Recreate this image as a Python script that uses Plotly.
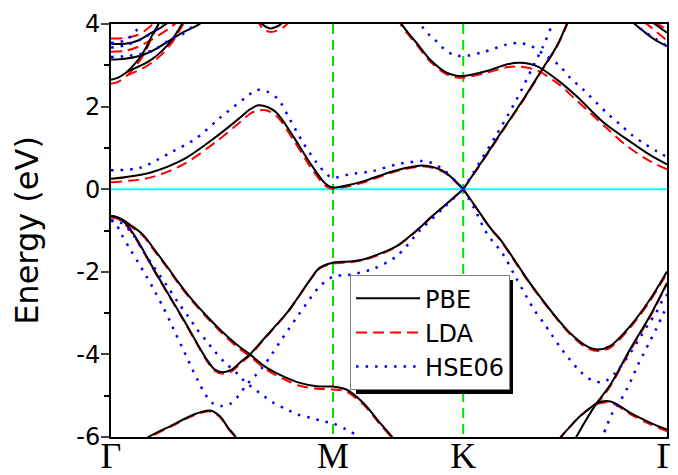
import plotly.graph_objects as go

# ---- k-path (units: Gamma-M = 1) ----
K_TICKS = [0.0, 1.0, 1.587, 2.505]
K_LABELS = ["Γ", "M", "K", "Γ"]
Y_TICKS = [-6, -4, -2, 0, 2, 4]
Y_LABELS = ["-6", "-4", "-2", "0", "2", "4"]

# ================= PBE =================
PBE_CB1_K = [0, 0.176, 0.326, 0.476, 0.581, 0.625, 0.664, 0.705, 0.746, 0.821, 0.896, 0.956, 0.98, 1.0, 1.06, 1.136, 1.287, 1.414, 1.497, 1.557, 1.587]
PBE_CB1_E = [0.25, 0.40, 0.72, 1.28, 1.73, 1.93, 2.03, 1.99, 1.85, 1.28, 0.64, 0.19, 0.08, 0.04, 0.09, 0.19, 0.46, 0.57, 0.44, 0.17, 0.0]
PBE_UP_K = [1.587, 1.677, 1.767, 1.857, 1.940, 2.008, 2.053, 2.075]
PBE_UP_E = [0.0, 0.72, 1.45, 2.17, 2.88, 3.46, 3.99, 4.30]
PBE_CB2_K = [1.293, 1.309, 1.377, 1.437, 1.512, 1.554, 1.587, 1.692, 1.782, 1.842, 1.918, 2.008, 2.098, 2.218, 2.353, 2.428, 2.505]
PBE_CB2_E = [4.2, 4.0, 3.54, 3.14, 2.82, 2.75, 2.74, 2.86, 3.02, 3.06, 2.98, 2.66, 2.25, 1.62, 1.10, 0.83, 0.60]
PBE_VB1_K = [0, 0.023, 0.050, 0.077, 0.101, 0.135, 0.176, 0.221, 0.273, 0.326, 0.378, 0.431, 0.468, 0.503, 0.544, 0.589, 0.626, 0.686, 0.746, 0.799, 0.836, 0.896, 0.941, 1.0,
             1.075, 1.136, 1.212, 1.287, 1.332, 1.392, 1.437, 1.512, 1.587]
PBE_VB1_E = [-0.65, -0.67, -0.75, -0.90, -1.08, -1.38, -1.78, -2.20, -2.67, -3.15, -3.64, -4.12, -4.37, -4.43, -4.37, -4.16, -4.00, -3.64, -3.28, -2.95, -2.67, -2.20, -1.90, -1.78,
             -1.75, -1.70, -1.56, -1.38, -1.20, -0.93, -0.70, -0.35, 0.0]
PBE_VB1B_K = [1.587, 1.632, 1.715, 1.752, 1.887, 1.977, 2.068, 2.143, 2.195, 2.248, 2.338, 2.428, 2.505]
PBE_VB1B_E = [0.0, -0.34, -0.98, -1.20, -2.27, -2.91, -3.48, -3.80, -3.88, -3.80, -3.32, -2.67, -1.99]
PBE_VB2_K = [0, 0.023, 0.050, 0.086, 0.144, 0.198, 0.251, 0.303, 0.364, 0.431, 0.499, 0.566, 0.626, 0.701, 0.776, 0.851, 0.927, 1.0, 1.060, 1.136, 1.212, 1.264, 1.279]
PBE_VB2_E = [-0.65, -0.67, -0.73, -0.86, -1.10, -1.48, -1.86, -2.25, -2.67, -3.07, -3.44, -3.76, -4.00, -4.32, -4.53, -4.69, -4.77, -4.78, -4.85, -5.17, -5.66, -5.98, -6.10]
PBE_VB3_K = [0.131, 0.176, 0.281, 0.371, 0.446, 0.491, 0.528, 0.559, 0.568]
PBE_VB3_E = [-6.15, -5.98, -5.70, -5.46, -5.36, -5.50, -5.78, -5.98, -6.10]
PBE_VB4_K = [2.014, 2.030, 2.068, 2.113, 2.158, 2.194, 2.233, 2.270, 2.338, 2.428, 2.505]
PBE_VB4_E = [-6.08, -5.98, -5.75, -5.50, -5.30, -5.17, -5.13, -5.18, -5.41, -5.65, -5.82]
PBE_VB5_K = [2.086, 2.098, 2.188, 2.248, 2.338, 2.428, 2.505]
PBE_VB5_E = [-6.10, -5.98, -5.18, -4.75, -3.88, -3.07, -2.27]
PBE_TLA_K = [0, 0.032, 0.071, 0.108, 0.138, 0.161, 0.183, 0.206, 0.221]
PBE_TLA_E = [2.65, 2.70, 2.84, 3.04, 3.25, 3.46, 3.70, 3.92, 4.08]
PBE_TLB_K = [0, 0.063, 0.123, 0.183, 0.258, 0.333, 0.393, 0.410]
PBE_TLB_E = [3.14, 3.16, 3.22, 3.34, 3.58, 3.82, 3.98, 4.05]
PBE_TLC_K = [0, 0.063, 0.123, 0.183, 0.221, 0.248, 0.266]
PBE_TLC_E = [3.52, 3.52, 3.60, 3.79, 3.90, 4.00, 4.08]
PBE_TLD_K = [0.071, 0.108, 0.145, 0.185, 0.230, 0.275, 0.311, 0.329]
PBE_TLD_E = [2.84, 2.93, 3.02, 3.15, 3.35, 3.62, 3.92, 4.08]
PBE_TOPM_K = [0.649, 0.680, 0.698, 0.716, 0.739, 0.761, 0.784]
PBE_TOPM_E = [4.15, 4.00, 3.93, 3.89, 3.92, 3.98, 4.10]
PBE_TR1_K = [2.351, 2.360, 2.398, 2.450, 2.505]
PBE_TR1_E = [4.05, 4.00, 3.83, 3.62, 3.46]
PBE_TR2_K = [2.428, 2.450, 2.505]
PBE_TR2_E = [4.10, 4.00, 3.79]

# ================= LDA =================
LDA_CB1_K = [0, 0.176, 0.326, 0.476, 0.581, 0.625, 0.656, 0.698, 0.746, 0.821, 0.896, 0.956, 0.98, 1.0, 1.06, 1.136, 1.287, 1.414, 1.497, 1.557, 1.587]
LDA_CB1_E = [0.17, 0.28, 0.60, 1.16, 1.62, 1.82, 1.90, 1.91, 1.77, 1.20, 0.56, 0.13, 0.04, 0.01, 0.06, 0.16, 0.44, 0.55, 0.42, 0.15, 0.0]
LDA_UP_K = [1.587, 1.677, 1.767, 1.857, 1.940, 2.008, 2.053, 2.075]
LDA_UP_E = [0.0, 0.70, 1.43, 2.15, 2.86, 3.44, 3.97, 4.28]
LDA_CB2_K = [1.293, 1.309, 1.377, 1.437, 1.512, 1.554, 1.587, 1.692, 1.782, 1.842, 1.918, 2.008, 2.098, 2.239, 2.324, 2.414, 2.505]
LDA_CB2_E = [4.18, 3.96, 3.50, 3.10, 2.78, 2.71, 2.70, 2.82, 2.95, 2.97, 2.88, 2.58, 2.15, 1.45, 1.05, 0.72, 0.48]
LDA_VB1_K = PBE_VB1_K
LDA_VB1_E = [-0.68, -0.70, -0.78, -0.93, -1.11, -1.41, -1.80, -2.22, -2.69, -3.17, -3.66, -4.15, -4.40, -4.47, -4.41, -4.19, -4.03, -3.66, -3.29, -2.96, -2.68, -2.21, -1.92, -1.80,
             -1.77, -1.72, -1.58, -1.39, -1.21, -0.94, -0.71, -0.36, 0.0]
LDA_VB1B_K = PBE_VB1B_K
LDA_VB1B_E = [0.0, -0.35, -0.99, -1.22, -2.29, -2.93, -3.51, -3.84, -3.92, -3.84, -3.36, -2.71, -2.03]
LDA_VB2_K = PBE_VB2_K
LDA_VB2_E = [-0.68, -0.70, -0.76, -0.89, -1.13, -1.51, -1.89, -2.28, -2.70, -3.10, -3.48, -3.81, -4.05, -4.37, -4.59, -4.76, -4.83, -4.85, -4.90, -5.21, -5.69, -6.01, -6.12]
LDA_VB3_K = PBE_VB3_K
LDA_VB3_E = [-6.17, -6.00, -5.72, -5.48, -5.38, -5.52, -5.80, -6.00, -6.12]
LDA_VB4_K = [2.188, 2.233, 2.270, 2.338, 2.428, 2.505]
LDA_VB4_E = [-5.20, -5.16, -5.21, -5.44, -5.69, -5.86]
LDA_VB5_K = [2.014, 2.030, 2.068, 2.113, 2.158, 2.188, 2.248, 2.338, 2.428, 2.505]
LDA_VB5_E = [-6.08, -5.98, -5.75, -5.50, -5.30, -5.20, -4.78, -3.92, -3.10, -2.29]
LDA_TLA_K = [0, 0.032, 0.071, 0.108, 0.138, 0.161, 0.183, 0.206, 0.221]
LDA_TLA_E = [2.55, 2.60, 2.75, 2.96, 3.18, 3.40, 3.66, 3.90, 4.06]
LDA_TLB_K = [0, 0.063, 0.123, 0.183, 0.258, 0.310]
LDA_TLB_E = [3.33, 3.35, 3.45, 3.62, 3.88, 4.10]
LDA_TLC_K = [0, 0.063, 0.123, 0.153, 0.183, 0.206]
LDA_TLC_E = [3.65, 3.66, 3.74, 3.84, 3.97, 4.08]
LDA_TLD_K = [0.071, 0.108, 0.145, 0.185, 0.230, 0.275, 0.311, 0.329]
LDA_TLD_E = [2.75, 2.84, 2.93, 3.07, 3.27, 3.55, 3.86, 4.05]
LDA_TOPM_K = [0.653, 0.686, 0.716, 0.748, 0.784, 0.806]
LDA_TOPM_E = [4.15, 3.88, 3.81, 3.84, 3.95, 4.10]
LDA_TR1_K = [2.400, 2.414, 2.505]
LDA_TR1_E = [4.05, 4.00, 3.60]
LDA_TR2_K = [2.450, 2.464, 2.505]
LDA_TR2_E = [4.05, 4.00, 3.86]

# ================= HSE06 =================
HSE_CB1_K = [0, 0.131, 0.266, 0.386, 0.491, 0.604, 0.656, 0.701, 0.754, 0.806, 0.866, 0.927, 0.972, 1.0,
             1.075, 1.181, 1.287, 1.400, 1.452, 1.505, 1.557, 1.587]
HSE_CB1_E = [0.46, 0.52, 0.88, 1.24, 1.73, 2.21, 2.40, 2.37, 2.17, 1.69, 1.12, 0.64, 0.36, 0.28,
             0.36, 0.44, 0.60, 0.68, 0.62, 0.44, 0.17, 0.0]
HSE_UP_K = [1.587, 1.632, 1.737, 1.827, 1.902, 1.947, 1.985, 2.005]
HSE_UP_E = [0.0, 0.40, 1.32, 2.17, 2.98, 3.46, 3.95, 4.20]
HSE_CB2_K = [1.383, 1.407, 1.437, 1.467, 1.512, 1.550, 1.587, 1.677, 1.782, 1.842, 1.895, 1.962, 2.023, 2.068, 2.128, 2.233, 2.293, 2.345, 2.398, 2.458, 2.505]
HSE_CB2_E = [4.15, 3.90, 3.72, 3.58, 3.34, 3.25, 3.22, 3.32, 3.50, 3.54, 3.46, 3.22, 2.98, 2.70, 2.41, 1.85, 1.57, 1.32, 1.12, 0.92, 0.78]
HSE_VB1_K = [0, 0.023, 0.048, 0.086, 0.123, 0.161, 0.198, 0.236, 0.266, 0.288, 0.318, 0.364, 0.393, 0.423, 0.455, 0.495, 0.536, 0.573, 0.611, 0.649,
             0.686, 0.724, 0.761, 0.799, 0.836, 0.874, 0.941, 1.0, 1.075, 1.181, 1.287, 1.392, 1.497, 1.587]
HSE_VB1_E = [-0.75, -0.85, -1.10, -1.45, -1.78, -2.12, -2.48, -2.87, -3.20, -3.46, -3.80, -4.33, -4.65, -4.95, -5.17, -5.25, -5.20, -5.01, -4.73, -4.52,
             -4.29, -4.00, -3.70, -3.40, -3.11, -2.82, -2.35, -2.12, -2.07, -1.93, -1.62, -1.00, -0.46, 0.0]
HSE_VB1B_K = [1.587, 1.640, 1.692, 1.767, 1.820, 1.872, 1.910, 1.947, 1.985, 2.023, 2.065, 2.110, 2.165, 2.218, 2.270, 2.315, 2.383, 2.420, 2.455, 2.485, 2.505]
HSE_VB1B_E = [0.0, -0.50, -1.06, -1.58, -2.10, -2.60, -2.95, -3.22, -3.52, -3.82, -4.11, -4.39, -4.62, -4.67, -4.46, -4.16, -3.60, -3.28, -3.00, -2.69, -2.55]
HSE_VB2_K = [0, 0.041, 0.093, 0.145, 0.198, 0.251, 0.303, 0.348, 0.386, 0.431, 0.468, 0.514, 0.566, 0.604, 0.679, 0.731, 0.791, 0.844, 0.896, 0.956, 1.0, 1.060, 1.113, 1.130]
HSE_VB2_E = [-0.75, -0.80, -1.05, -1.50, -1.92, -2.33, -2.75, -3.08, -3.38, -3.68, -3.93, -4.20, -4.45, -4.66, -4.97, -5.17, -5.33, -5.46, -5.53, -5.62, -5.67, -5.82, -5.98, -6.10]
HSE_VB5_K = [2.207, 2.233, 2.255, 2.290, 2.323, 2.345, 2.371, 2.398, 2.428, 2.455, 2.480, 2.505]
HSE_VB5_E = [-6.10, -5.74, -5.46, -5.17, -4.85, -4.61, -4.29, -4.00, -3.68, -3.40, -3.11, -2.83]
HSE_TL1_K = [0, 0.063, 0.099, 0.122, 0.135]
HSE_TL1_E = [3.54, 3.60, 3.75, 3.90, 4.02]
HSE_TL2_K = [0, 0.063, 0.153, 0.212, 0.275, 0.324, 0.369, 0.383]
HSE_TL2_E = [3.20, 3.22, 3.30, 3.43, 3.65, 3.76, 3.95, 4.03]
HSE_TL3_K = [0, 0.063, 0.131, 0.176, 0.212, 0.230]
HSE_TL3_E = [3.43, 3.48, 3.62, 3.76, 3.90, 4.02]
HSE_TR_K = [2.351, 2.390, 2.450, 2.505]
HSE_TR_E = [4.05, 3.87, 3.65, 3.47]

PBE_BANDS = [(PBE_CB1_K, PBE_CB1_E), (PBE_UP_K, PBE_UP_E), (PBE_CB2_K, PBE_CB2_E), (PBE_VB1_K, PBE_VB1_E),
             (PBE_VB1B_K, PBE_VB1B_E), (PBE_VB2_K, PBE_VB2_E), (PBE_VB3_K, PBE_VB3_E), (PBE_VB4_K, PBE_VB4_E),
             (PBE_VB5_K, PBE_VB5_E), (PBE_TLA_K, PBE_TLA_E), (PBE_TLB_K, PBE_TLB_E), (PBE_TLC_K, PBE_TLC_E),
             (PBE_TLD_K, PBE_TLD_E), (PBE_TOPM_K, PBE_TOPM_E), (PBE_TR1_K, PBE_TR1_E), (PBE_TR2_K, PBE_TR2_E)]
LDA_BANDS = [(LDA_CB1_K, LDA_CB1_E), (LDA_UP_K, LDA_UP_E), (LDA_CB2_K, LDA_CB2_E), (LDA_VB1_K, LDA_VB1_E),
             (LDA_VB1B_K, LDA_VB1B_E), (LDA_VB2_K, LDA_VB2_E), (LDA_VB3_K, LDA_VB3_E), (LDA_VB4_K, LDA_VB4_E),
             (LDA_VB5_K, LDA_VB5_E), (LDA_TLA_K, LDA_TLA_E), (LDA_TLB_K, LDA_TLB_E), (LDA_TLC_K, LDA_TLC_E),
             (LDA_TLD_K, LDA_TLD_E), (LDA_TOPM_K, LDA_TOPM_E), (LDA_TR1_K, LDA_TR1_E), (LDA_TR2_K, LDA_TR2_E)]
HSE_BANDS = [(HSE_CB1_K, HSE_CB1_E), (HSE_UP_K, HSE_UP_E), (HSE_CB2_K, HSE_CB2_E), (HSE_VB1_K, HSE_VB1_E),
             (HSE_VB1B_K, HSE_VB1B_E), (HSE_VB2_K, HSE_VB2_E), (HSE_VB5_K, HSE_VB5_E), (HSE_TL1_K, HSE_TL1_E),
             (HSE_TL2_K, HSE_TL2_E), (HSE_TL3_K, HSE_TL3_E), (HSE_TR_K, HSE_TR_E)]

fig = go.Figure()

# Fermi level and high-symmetry lines
fig.add_trace(go.Scatter(x=[K_TICKS[0], K_TICKS[-1]], y=[0, 0], mode="lines",
                         line=dict(color="#00ffff", width=2), showlegend=False, hoverinfo="skip"))
for kv in K_TICKS[1:3]:
    fig.add_trace(go.Scatter(x=[kv, kv], y=[4, -6], mode="lines",
                             line=dict(color="#00e000", width=2, dash="10px,6px"), showlegend=False, hoverinfo="skip"))

def add_set(bands, name, color, dash, width, rank):
    for i, (k, e) in enumerate(bands):
        fig.add_trace(go.Scatter(x=k, y=e, mode="lines", name=name, legendgroup=name,
                                 showlegend=(i == 0), legendrank=rank,
                                 line=dict(color=color, width=width, dash=dash, shape="spline", smoothing=0.9)))

add_set(LDA_BANDS, "LDA", "#ff0000", "11px,6px", 2, 2)
add_set(PBE_BANDS, "PBE", "#000000", "solid", 2, 1)
add_set(HSE_BANDS, "HSE06", "#0000ff", "2.5px,7px", 2.5, 3)

# legend shadow
fig.add_shape(type="rect", xref="paper", yref="paper", x0=0.4406, x1=0.7230, y0=0.104, y1=0.380,
              fillcolor="black", line=dict(width=0), layer="above")

# the page body adds an 8 px offset, so the figure is 8 px smaller than the window
fig.update_layout(
    width=670, height=467,
    margin=dict(l=103, r=11, t=16, b=38, autoexpand=False),
    paper_bgcolor="white", plot_bgcolor="white",
    font=dict(family="DejaVu Sans", color="black"),
    legend=dict(x=0.43, y=0.392, xanchor="left", yanchor="top", bgcolor="white",
                bordercolor="#808080", borderwidth=1, font=dict(size=24), itemwidth=64,
                tracegroupgap=0, traceorder="normal"),
    xaxis=dict(range=[K_TICKS[0], K_TICKS[-1]], tickvals=K_TICKS, ticktext=K_LABELS, ticks="",
               showgrid=False, zeroline=False, showline=True, mirror=True, linecolor="black", linewidth=2,
               ticklabelstandoff=-14, automargin=False,
               tickfont=dict(family="Liberation Serif, Times New Roman", size=36)),
    yaxis=dict(range=[-6, 4], tickvals=Y_TICKS, ticktext=Y_LABELS, ticks="outside", ticklen=8, tickwidth=2,
               minor=dict(dtick=1, ticks="outside", ticklen=5, tickwidth=1.5, tickcolor="black", showgrid=False),
               showgrid=False, zeroline=False, showline=True, mirror=True, linecolor="black", linewidth=2,
               ticklabelstandoff=-4, automargin=False,
               tickfont=dict(size=24),
               title=dict(text="Energy (eV)", font=dict(size=32), standoff=29)),
)

fig.write_html("out.html")
